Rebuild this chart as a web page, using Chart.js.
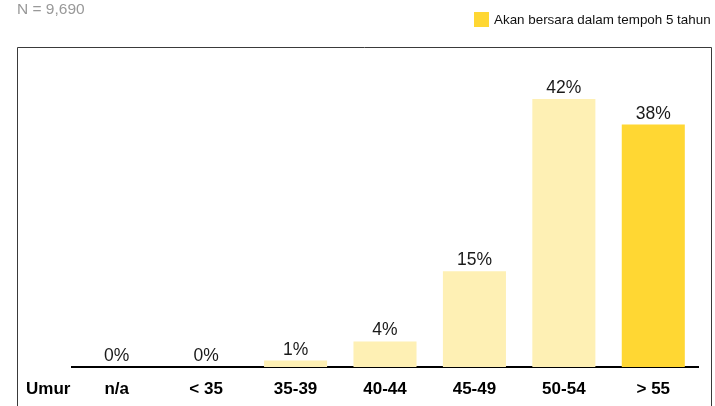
<!DOCTYPE html>
<html>
<head>
<meta charset="utf-8">
<script src="https://cdn.jsdelivr.net/npm/chart.js@4.4.1/dist/chart.umd.min.js"></script>
<style>
  html, body { margin: 0; padding: 0; background: #fff; }
  #wrap { position: relative; width: 715px; height: 406px; }
</style>
</head>
<body>
<div id="wrap"><canvas id="myChart" width="715" height="406"></canvas></div>
<script>
const ageGroups = ['n/a', '< 35', '35-39', '40-44', '45-49', '50-54', '> 55'];
const retiringPct = [0, 0, 1, 4, 15, 42, 38];
const valueLabels = ['0%', '0%', '1%', '4%', '15%', '42%', '38%'];
const axisTitle = 'Umur';
const sampleNote = 'N = 9,690';
const legendText = 'Akan bersara dalam tempoh 5 tahun';

const pale = '#FEF0B4';
const bright = '#FFD733';
const barColors = ageGroups.map((g, i) => i === ageGroups.length - 1 ? bright : pale);
const fontFamily = '"Liberation Sans", Arial, sans-serif';

// frame, note, legend, "Umur" and value labels
const decorations = {
    id: 'decorations',
    beforeDraw(chart) {
        const c = chart.ctx;
        c.save();
        c.strokeStyle = '#3a3a3a';
        c.lineWidth = 1;
        c.beginPath();
        c.moveTo(17.5, 420);
        c.lineTo(17.5, 47.5);
        c.lineTo(711.5, 47.5);
        c.lineTo(711.5, 420);
        c.stroke();

        c.fillStyle = '#999';
        c.font = '15.5px ' + fontFamily;
        c.textAlign = 'left';
        c.textBaseline = 'alphabetic';
        c.fillText(sampleNote, 17, 14);

        c.fillStyle = bright;
        c.fillRect(474, 12, 15, 15);
        c.fillStyle = '#111';
        c.font = '13.4px ' + fontFamily;
        c.fillText(legendText, 494, 24);
        c.restore();
    },
    afterDatasetsDraw(chart) {
        const c = chart.ctx;
        const meta = chart.getDatasetMeta(0);
        c.save();
        c.fillStyle = '#1a1a1a';
        c.font = '17.5px ' + fontFamily;
        c.textAlign = 'center';
        c.textBaseline = 'alphabetic';
        meta.data.forEach((bar, i) => {
            c.fillText(valueLabels[i], bar.x, bar.y - 6);
        });
        c.fillStyle = '#000';
        c.font = 'bold 17px ' + fontFamily;
        c.textAlign = 'left';
        c.textBaseline = 'top';
        c.fillText(axisTitle, 26, chart.scales.x.top + 14);
        c.restore();
    }
};

new Chart(document.getElementById('myChart').getContext('2d'), {
    type: 'bar',
    data: {
        labels: ageGroups,
        datasets: [{
            label: legendText,
            data: retiringPct,
            backgroundColor: barColors,
            borderWidth: 0,
            categoryPercentage: 1,
            barPercentage: 0.705
        }]
    },
    options: {
        responsive: false,
        animation: false,
        layout: { padding: { left: 72, right: 17, top: 48, bottom: 0 } },
        scales: {
            x: {
                afterFit(scale) { scale.height = 39; },
                grid: { display: false, drawTicks: false },
                border: { display: true, color: '#000', width: 2 },
                ticks: {
                    color: '#000',
                    padding: 12,
                    font: { family: fontFamily, size: 17, weight: 'bold' }
                }
            },
            y: {
                display: false,
                min: 0,
                max: 50
            }
        },
        plugins: {
            legend: { display: false },
            tooltip: { enabled: false }
        }
    },
    plugins: [decorations]
});
</script>
</body>
</html>
